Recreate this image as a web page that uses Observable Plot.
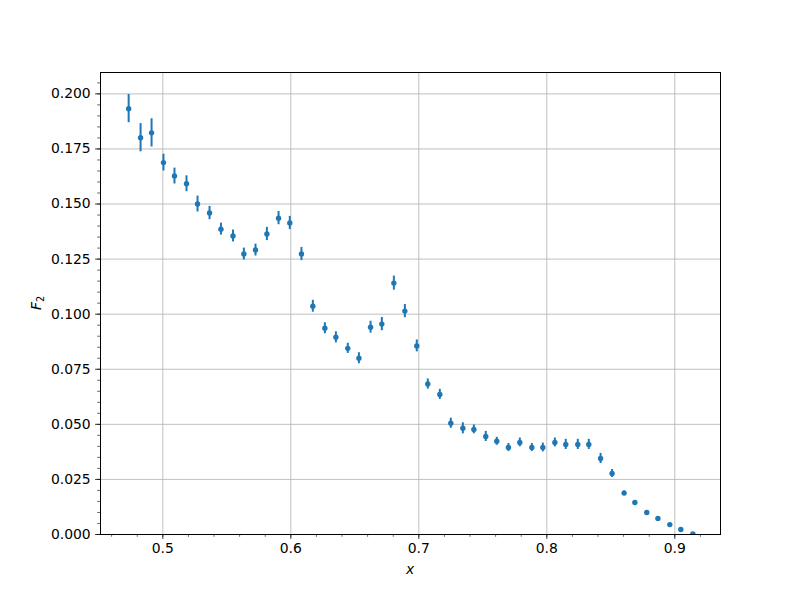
<!DOCTYPE html>
<html>
<head>
<meta charset="utf-8">
<script src="https://cdn.jsdelivr.net/npm/d3@7"></script>
<script src="https://cdn.jsdelivr.net/npm/@observablehq/plot@0.6"></script>
<style>
  html, body { margin: 0; padding: 0; background: white; }
  #chart svg { display: block; }
</style>
</head>
<body>
<div id="chart"></div>
<script>
const xValues = [0.4733, 0.4826, 0.4912, 0.5005, 0.5091, 0.5185, 0.5271, 0.5365, 0.5454, 0.5548,
  0.5633, 0.5724, 0.5813, 0.5904, 0.5992, 0.6083, 0.6172, 0.6266, 0.6352, 0.6445,
  0.6532, 0.6623, 0.6711, 0.6805, 0.6891, 0.6984, 0.7070, 0.7164, 0.7250, 0.7344,
  0.7430, 0.7523, 0.7609, 0.7700, 0.7789, 0.7883, 0.7969, 0.8063, 0.8148, 0.8242,
  0.8328, 0.8420, 0.8510, 0.8604, 0.8688, 0.8781, 0.8868, 0.8961, 0.9047, 0.9141];
const f2Values = [0.1933, 0.1801, 0.1823, 0.1688, 0.1627, 0.1592, 0.1500, 0.1459, 0.1386, 0.1355,
  0.1273, 0.1291, 0.1364, 0.1436, 0.1414, 0.1273, 0.1036, 0.0936, 0.0895, 0.0845,
  0.0800, 0.0941, 0.0955, 0.1141, 0.1014, 0.0856, 0.0683, 0.0636, 0.0505, 0.0482,
  0.0477, 0.0445, 0.0423, 0.0395, 0.0418, 0.0395, 0.0395, 0.0418, 0.0409, 0.0409,
  0.0409, 0.0345, 0.0277, 0.0188, 0.0145, 0.0100, 0.0073, 0.0045, 0.0023, 0.0003];
const f2Errors = [0.0064, 0.0064, 0.0064, 0.0038, 0.0036, 0.0036, 0.0036, 0.0030, 0.0027, 0.0027,
  0.0027, 0.0027, 0.0030, 0.0030, 0.0030, 0.0030, 0.0027, 0.0025, 0.0025, 0.0023,
  0.0025, 0.0027, 0.0030, 0.0032, 0.0030, 0.0027, 0.0023, 0.0023, 0.0023, 0.0025,
  0.0020, 0.0023, 0.0018, 0.0018, 0.0020, 0.0018, 0.0020, 0.0020, 0.0023, 0.0023,
  0.0023, 0.0023, 0.0018, 0.0010, 0.0008, 0.0006, 0.0005, 0.0004, 0.0003, 0.0002];

const xTickValues = [0.5, 0.6, 0.7, 0.8, 0.9];
const xTickLabels = ["0.5", "0.6", "0.7", "0.8", "0.9"];
const yTickValues = [0, 0.025, 0.05, 0.075, 0.1, 0.125, 0.15, 0.175, 0.2];
const yTickLabels = ["0.000", "0.025", "0.050", "0.075", "0.100", "0.125", "0.150", "0.175", "0.200"];
const xMinorTicks = d3.range(23, 47).map(i => i * 0.02).filter(v => v > 0.4513 && v < 0.9357);
const yMinorTicks = d3.range(0, 42).map(i => i * 0.005);

const data = xValues.map((x, i) => ({x, y: f2Values[i], e: f2Errors[i]}));

const blue = "#1f77b4";
const gridStyle = {stroke: "#b0b0b0", strokeOpacity: 1, strokeWidth: 0.8};

const chart = Plot.plot({
  width: 800,
  height: 600,
  marginLeft: 100,
  marginRight: 80,
  marginTop: 72,
  marginBottom: 66,
  x: {domain: [0.4513, 0.9357]},
  y: {domain: [0, 0.2097]},
  style: {fontFamily: "DejaVu Sans", fontSize: "13.9px", color: "black", background: "white"},
  marks: [
    Plot.gridX(xTickValues, gridStyle),
    Plot.gridY(yTickValues, gridStyle),
    Plot.axisX(xMinorTicks, {tickSize: 2.8, text: null, label: null, strokeWidth: 0.6}),
    Plot.axisX(xTickValues, {tickSize: 4.9, tickPadding: 4, strokeWidth: 0.8, label: null,
      tickFormat: d => xTickLabels[xTickValues.indexOf(d)]}),
    Plot.axisY(yMinorTicks, {tickSize: 2.8, text: null, label: null, strokeWidth: 0.6}),
    Plot.axisY(yTickValues, {tickSize: 4.9, tickPadding: 4.9, strokeWidth: 0.8, label: null,
      tickFormat: d => yTickLabels[yTickValues.indexOf(d)]}),
    Plot.ruleX(data, {x: "x", y1: d => d.y - d.e, y2: d => d.y + d.e, stroke: blue, strokeWidth: 2, clip: true}),
    Plot.dot(data, {x: "x", y: "y", r: 2.7, fill: blue, stroke: "none", clip: true}),
    Plot.frame({stroke: "black", strokeWidth: 1})
  ]
});

const svg = d3.select(chart);
// x label
svg.append("text")
  .attr("x", 410).attr("y", 574)
  .attr("text-anchor", "middle")
  .attr("font-family", "DejaVu Sans").attr("font-size", 13.9)
  .attr("font-style", "italic").attr("fill", "black")
  .text("x");
// y label F_2
const yl = svg.append("text")
  .attr("transform", "translate(41,303) rotate(-90)")
  .attr("text-anchor", "middle")
  .attr("font-family", "DejaVu Sans").attr("font-size", 13.9).attr("fill", "black");
yl.append("tspan").attr("font-style", "italic").text("F");
yl.append("tspan").attr("font-size", 9.7).attr("dy", 2.5).text("2");

document.getElementById("chart").appendChild(chart);
</script>
</body>
</html>
